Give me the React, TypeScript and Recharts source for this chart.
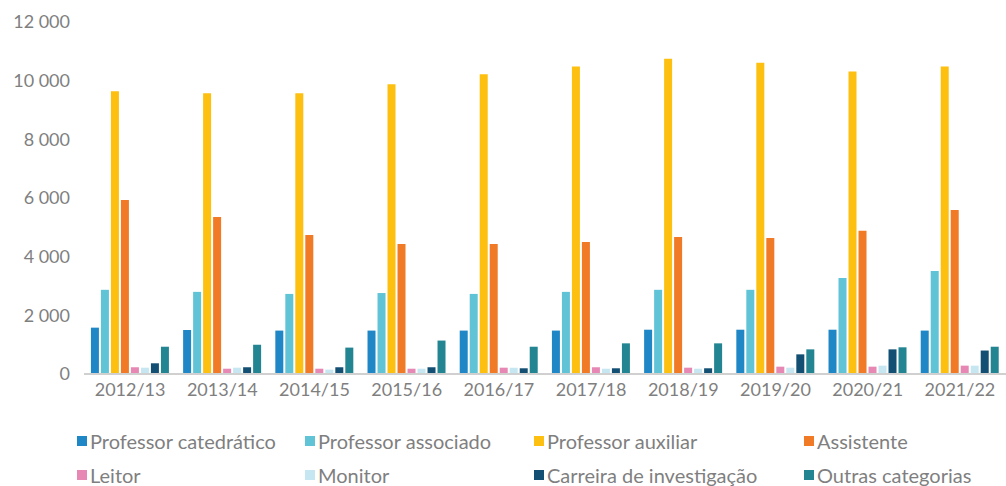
import { BarChart, Bar, XAxis, YAxis, Legend } from "recharts";

const years = ["2012/13", "2013/14", "2014/15", "2015/16", "2016/17", "2017/18", "2018/19", "2019/20", "2020/21", "2021/22"];

const catedratico = [1580, 1500, 1480, 1480, 1480, 1480, 1510, 1510, 1510, 1480];
const associado = [2870, 2800, 2730, 2760, 2730, 2800, 2870, 2870, 3270, 3510];
const auxiliar = [9640, 9570, 9570, 9880, 10220, 10480, 10750, 10610, 10310, 10480];
const assistente = [5930, 5350, 4740, 4430, 4430, 4500, 4670, 4640, 4880, 5590];
const leitor = [230, 180, 180, 180, 215, 230, 215, 250, 250, 285];
const monitor = [215, 215, 150, 180, 215, 180, 180, 215, 285, 285];
const carreira = [365, 230, 230, 230, 195, 195, 195, 670, 840, 800];
const outras = [930, 1000, 900, 1140, 930, 1045, 1045, 840, 910, 930];

const yTicks = [0, 2000, 4000, 6000, 8000, 10000, 12000];

const series = [
  { key: "catedratico", name: "Professor catedrático", color: "#1f87c5", values: catedratico },
  { key: "associado", name: "Professor associado", color: "#60c4d6", values: associado },
  { key: "auxiliar", name: "Professor auxiliar", color: "#fdc010", values: auxiliar },
  { key: "assistente", name: "Assistente", color: "#f07a26", values: assistente },
  { key: "leitor", name: "Leitor", color: "#e688b3", values: leitor },
  { key: "monitor", name: "Monitor", color: "#c6e7f1", values: monitor },
  { key: "carreira", name: "Carreira de investigação", color: "#124f73", values: carreira },
  { key: "outras", name: "Outras categorias", color: "#238492", values: outras },
];

const data = years.map((year, i) => {
  const row: Record<string, string | number> = { year };
  series.forEach((s) => { row[s.key] = s.values[i]; });
  return row;
});

const fmt = (v: number) => String(v).replace(/\B(?=(\d{3})+(?!\d))/g, " ");

const TEXT = "#7f7f7f";
const FONT = "Lato, 'Open Sans', sans-serif";

// legend column starts (px) - the Excel legend isn't evenly spaced
const legendCols = [77, 305, 534, 804];

function CustomLegend() {
  return (
    <div style={{ position: "relative", height: 76, fontFamily: FONT, fontSize: 20, color: TEXT }}>
      {series.map((s, i) => {
        const col = i % 4;
        const row = Math.floor(i / 4);
        return (
          <div
            key={s.key}
            style={{
              position: "absolute",
              left: legendCols[col],
              top: 20 + row * 34,
              display: "flex",
              alignItems: "center",
              whiteSpace: "nowrap",
              lineHeight: "22px",
            }}
          >
            <span style={{ display: "inline-block", width: 10, height: 10, background: s.color, marginRight: 3 }} />
            {s.name}
          </div>
        );
      })}
    </div>
  );
}

export default function App() {
  return (
    <div style={{ position: "absolute", left: 0, top: 0, width: 1006, height: 486, background: "#fff" }}>
      <BarChart
        width={1006}
        height={486}
        data={data}
        margin={{ top: 22, right: 0, left: 0, bottom: 0 }}
        barCategoryGap="7.5%"
        barGap={2}
      >
        <XAxis
          dataKey="year"
          tickLine={false}
          tickSize={0}
          tickMargin={9}
          height={36}
          axisLine={{ stroke: "#d0d0d0", strokeWidth: 2 }}
          tick={{ fill: TEXT, fontSize: 18, fontFamily: FONT }}
          interval={0}
        />
        <YAxis
          width={84}
          domain={[0, 12000]}
          ticks={yTicks}
          tickFormatter={fmt}
          axisLine={false}
          tickLine={false}
          tickSize={0}
          tickMargin={14}
          tick={{ fill: TEXT, fontSize: 18, fontFamily: FONT }}
        />
        <Legend verticalAlign="bottom" height={76} content={<CustomLegend />} wrapperStyle={{ left: 0, width: 1006 }} />
        {series.map((s) => (
          <Bar key={s.key} dataKey={s.key} name={s.name} fill={s.color} isAnimationActive={false} />
        ))}
      </BarChart>
    </div>
  );
}
